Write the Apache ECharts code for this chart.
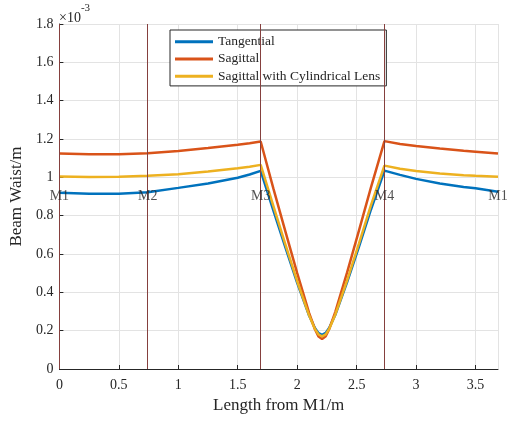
<!DOCTYPE html>
<html>
<head>
<meta charset="utf-8">
<script src="https://cdn.jsdelivr.net/npm/echarts@6/dist/echarts.min.js"></script>
<style>html,body{margin:0;padding:0;background:#fff;}#c{width:509px;height:421px;}</style>
</head>
<body>
<div id="c"></div>
<script>
// Length from M1 (m)
var xs = [0, 0.25, 0.5, 0.743, 1.0, 1.25, 1.5, 1.6, 1.693, 1.8, 1.9, 2.0, 2.1, 2.15, 2.18, 2.209, 2.24, 2.27, 2.32, 2.42, 2.52, 2.62, 2.734, 2.865, 3.0, 3.2, 3.4, 3.5, 3.689];
// Beam waist (x1e-3 m)
var tangential = [0.919, 0.914, 0.914, 0.922, 0.945, 0.968, 0.998, 1.015, 1.034, 0.826, 0.636, 0.449, 0.279, 0.213, 0.187, 0.178, 0.188, 0.215, 0.282, 0.453, 0.639, 0.831, 1.035, 1.013, 0.992, 0.968, 0.950, 0.943, 0.925];
var sagittal = [1.124, 1.120, 1.121, 1.126, 1.138, 1.153, 1.170, 1.178, 1.187, 0.941, 0.719, 0.500, 0.293, 0.206, 0.169, 0.156, 0.171, 0.209, 0.297, 0.504, 0.723, 0.946, 1.189, 1.174, 1.163, 1.150, 1.139, 1.134, 1.124];
var sagittalCyl = [1.004, 1.002, 1.003, 1.008, 1.016, 1.030, 1.047, 1.055, 1.065, 0.850, 0.652, 0.458, 0.280, 0.208, 0.180, 0.170, 0.181, 0.210, 0.283, 0.462, 0.656, 0.854, 1.061, 1.045, 1.033, 1.020, 1.011, 1.008, 1.003];
var seriesNames = ['Tangential', 'Sagittal', 'Sagittal with Cylindrical Lens'];
// mirror positions and labels
var mirrorX = [0, 0.743, 1.693, 2.734, 3.689];
var mirrorLabels = ['M1', 'M2', 'M3', 'M4', 'M1'];
var mirrorLabelY = 0.9;
var xMax = 3.689;

var FONT = "'Liberation Serif', 'Times New Roman', serif";
var AX = '#262626';
function pairs(v){ return xs.map(function(x,i){ return [x, v[i]]; }); }

var chart = echarts.init(document.getElementById('c'), null, {renderer:'canvas'});
chart.setOption({
  animation: false,
  backgroundColor: '#fff',
  grid: {left: 58, right: 11, top: 24, bottom: 52, containLabel: false},
  xAxis: {
    type: 'value', min: 0, max: xMax, interval: 0.5,
    name: 'Length from M1/m', nameLocation: 'middle', nameGap: 17,
    nameTextStyle: {fontFamily: FONT, fontSize: 17, color: AX},
    axisLine: {show: true, onZero: false, lineStyle: {color: AX, width: 1}},
    axisTick: {show: true, inside: true, length: 4, lineStyle: {color: AX}},
    axisLabel: {fontFamily: FONT, fontSize: 14, color: AX, margin: 9, showMaxLabel: false,
      formatter: function(v){ return (Math.abs(v - xMax) < 1e-6) ? '' : String(+v.toFixed(2)); }},
    splitLine: {show: true, lineStyle: {color: '#e3e3e3', width: 1}}
  },
  yAxis: {
    type: 'value', min: 0, max: 1.8, interval: 0.2,
    name: 'Beam Waist/m', nameLocation: 'middle', nameGap: 28, nameRotate: 90,
    nameTextStyle: {fontFamily: FONT, fontSize: 17, color: AX},
    axisLine: {show: true, lineStyle: {color: AX, width: 1}},
    axisTick: {show: true, inside: true, length: 4, lineStyle: {color: AX}},
    axisLabel: {fontFamily: FONT, fontSize: 14, color: AX, margin: 6,
      formatter: function(v){ return String(+v.toFixed(2)); }},
    splitLine: {show: true, lineStyle: {color: '#e3e3e3', width: 1}}
  },
  legend: {
    data: seriesNames,
    orient: 'vertical', left: 170, top: 30,
    padding: [3, 6, 1, 5],
    icon: 'rect',
    itemWidth: 38, itemHeight: 3, itemGap: 0,
    backgroundColor: '#fff', borderColor: AX, borderWidth: 1, borderRadius: 0,
    textStyle: {fontFamily: FONT, fontSize: 13.5, color: AX, lineHeight: 17.3}
  },
  graphic: [{
    type: 'text', left: 59, top: 3, z: 100,
    style: {
      text: '{a|×10}{b|-3}',
      rich: {
        a: {fontFamily: FONT, fontSize: 14, fill: AX, padding: [8, 0, 0, 0]},
        b: {fontFamily: FONT, fontSize: 11, fill: AX, verticalAlign: 'top'}
      }
    }
  }],
  series: [
    {
      name: 'mirrors', type: 'line', data: [], silent: true, z: 1,
      markLine: {
        silent: true, symbol: 'none', animation: false,
        label: {show: false},
        lineStyle: {color: '#85403e', width: 1, type: 'solid'},
        data: mirrorX.slice(0, 4).map(function(x){ return {xAxis: x}; })
      }
    },
    {name: seriesNames[0], type: 'line', data: pairs(tangential), showSymbol: false, symbol: 'none', z: 3,
      lineStyle: {color: '#0072BD', width: 2.5}, itemStyle: {color: '#0072BD'}},
    {name: seriesNames[1], type: 'line', data: pairs(sagittal), showSymbol: false, symbol: 'none', z: 3,
      lineStyle: {color: '#D95319', width: 2.5}, itemStyle: {color: '#D95319'}},
    {name: seriesNames[2], type: 'line', data: pairs(sagittalCyl), showSymbol: false, symbol: 'none', z: 4,
      lineStyle: {color: '#EDB120', width: 2.5}, itemStyle: {color: '#EDB120'}},
    {
      name: 'labels', type: 'scatter', symbolSize: 0, z: 5, silent: true,
      data: mirrorX.map(function(x, i){ return {value: [x, mirrorLabelY], name: mirrorLabels[i]}; }),
      label: {show: true, position: 'inside', formatter: '{b}', fontFamily: FONT, fontSize: 14, color: AX}
    }
  ]
});
</script>
</body>
</html>
